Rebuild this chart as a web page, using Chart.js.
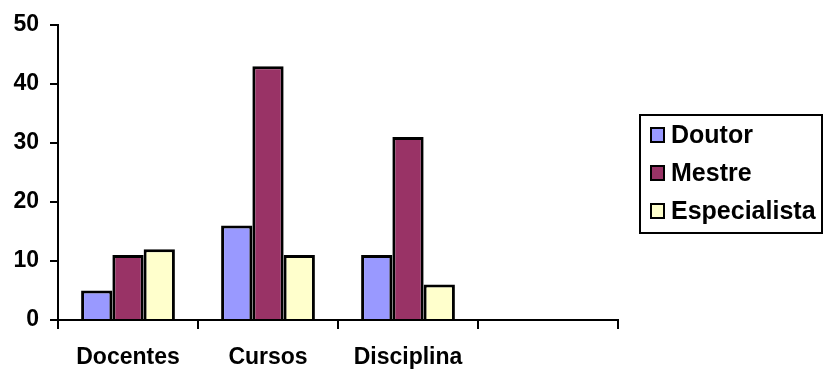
<!DOCTYPE html>
<html>
<head>
<meta charset="utf-8">
<script src="https://cdn.jsdelivr.net/npm/chart.js@4/dist/chart.umd.min.js"></script>
<style>
  html, body { margin: 0; padding: 0; background: #fff; }
  canvas { display: block; }
</style>
</head>
<body>
<canvas id="c" width="823" height="370"></canvas>
<script>
// Categories (the fourth slot is left empty)
const categories = ['Docentes', 'Cursos', 'Disciplina', ''];

// Series
const seriesNames = ['Doutor', 'Mestre', 'Especialista'];
const doutor = [5, 16, 11, null];
const mestre = [11, 43, 31, null];
const especialista = [12, 11, 6, null];

const seriesColors = ['#9999FF', '#993366', '#FFFFCC'];

// Y axis range
const yMin = 0;
const yMax = 50;
const yStep = 10;

const FONT = '"Liberation Sans", Arial, sans-serif';

// Legend drawn on the right inside a framed box
const boxedLegend = {
  id: 'boxedLegend',
  afterDraw(chart) {
    const ctx = chart.ctx;
    const x0 = 640, y0 = 115, w = 182, h = 118;
    ctx.save();
    ctx.lineWidth = 2;
    ctx.strokeStyle = '#000';
    ctx.strokeRect(x0, y0, w, h);
    ctx.font = 'bold 25px ' + FONT;
    ctx.textBaseline = 'middle';
    ctx.textAlign = 'left';
    chart.data.datasets.forEach((ds, i) => {
      const cy = y0 + 20 + i * 38;
      ctx.fillStyle = ds.backgroundColor;
      ctx.fillRect(651, cy - 7, 13, 14);
      ctx.lineWidth = 2;
      ctx.strokeStyle = '#000';
      ctx.strokeRect(651, cy - 7, 13, 14);
      ctx.fillStyle = '#000';
      ctx.fillText(ds.label, 671, cy + 1);
    });
    ctx.restore();
  }
};

new Chart(document.getElementById('c'), {
  type: 'bar',
  data: {
    labels: categories,
    datasets: [
      { label: seriesNames[0], data: doutor, backgroundColor: seriesColors[0] },
      { label: seriesNames[1], data: mestre, backgroundColor: seriesColors[1] },
      { label: seriesNames[2], data: especialista, backgroundColor: seriesColors[2] }
    ].map(d => Object.assign(d, {
      borderColor: '#000',
      borderWidth: 3,
      categoryPercentage: 0.67,
      barPercentage: 1.0
    }))
  },
  options: {
    responsive: false,
    animation: false,
    devicePixelRatio: 1,
    layout: { padding: { top: 25, right: 205, left: 0, bottom: 0 } },
    plugins: {
      legend: { display: false },
      tooltip: { enabled: false }
    },
    scales: {
      x: {
        offset: true,
        grid: {
          offset: true,
          drawOnChartArea: false,
          drawTicks: true,
          tickLength: 9,
          color: '#000',
          lineWidth: 2
        },
        border: { display: true, color: '#000', width: 2 },
        ticks: {
          color: '#000',
          padding: 15,
          maxRotation: 0,
          autoSkip: false,
          font: { family: FONT, size: 23, weight: 'bold' }
        },
        afterFit(scale) { scale.height = 50; }
      },
      y: {
        min: yMin,
        max: yMax,
        grid: {
          drawOnChartArea: false,
          drawTicks: true,
          tickLength: 8,
          color: '#000',
          lineWidth: 2
        },
        border: { display: true, color: '#000', width: 2 },
        ticks: {
          stepSize: yStep,
          color: '#000',
          padding: 11,
          font: { family: FONT, size: 23, weight: 'bold' }
        },
        afterFit(scale) { scale.width = 58; }
      }
    }
  },
  plugins: [boxedLegend]
});
</script>
</body>
</html>
